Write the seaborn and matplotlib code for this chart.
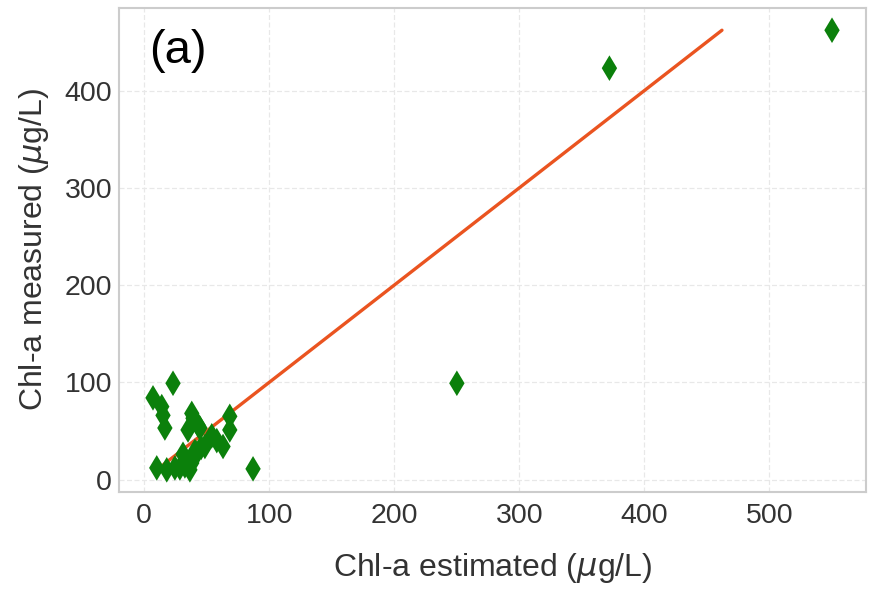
import numpy as np
import pandas as pd
import matplotlib
matplotlib.use("Agg")
import matplotlib.pyplot as plt
import seaborn as sns

# Chl-a estimated vs measured (µg/L)
chl_estimated = [7, 14, 15, 16.5, 23, 10, 18, 24.5, 28.5, 32.5, 31, 35, 38, 39, 38,
                 40.5, 42, 43, 44.5, 48.5, 54, 63, 68.4, 68.4, 87, 36.5, 45.5, 58,
                 250, 372, 550]
chl_measured = [84, 75, 66, 53, 99, 12, 10, 12, 12, 14, 26, 51, 68, 63, 17,
                29, 27, 56, 53, 34, 45, 34, 65, 51, 11, 10, 33, 40,
                99, 423, 462]

df = pd.DataFrame({"est": chl_estimated, "meas": chl_measured})

sns.set_style("whitegrid")
plt.rcParams['font.family'] = ['Liberation Sans', 'DejaVu Sans']
plt.rcParams['mathtext.fontset'] = 'dejavusans'

fig = plt.figure(figsize=(8.69, 5.89), dpi=100)
ax = fig.add_axes([0.137, 0.165, 0.8595, 0.821])

sns.scatterplot(data=df, x="est", y="meas", marker="d", color="#0b800b",
                s=170, edgecolor="none", ax=ax, zorder=3)

# 1:1 line from min to max measured
lo, hi = df["meas"].min(), df["meas"].max()
sns.lineplot(x=[lo, hi], y=[lo, hi], color="#ea5420", linewidth=2.4, ax=ax, zorder=2)

ax.set_xticks([0, 100, 200, 300, 400, 500])
ax.set_yticks([0, 100, 200, 300, 400])
ax.grid(True, color="#e8e8e8", linestyle=(0, (4, 2)), linewidth=0.9)
for sp in ax.spines.values():
    sp.set_color("#cccccc")
    sp.set_linewidth(1.5)

ax.tick_params(axis="x", labelsize=20.5, colors="#333333", length=0, pad=8)
ax.tick_params(axis="y", labelsize=20.5, colors="#333333", length=0, pad=5)
ax.set_xlabel(r"Chl-a estimated ($\mu$g/L)", fontsize=23, color="#333333", labelpad=16)
ax.set_ylabel(r"Chl-a measured ($\mu$g/L)", fontsize=23, color="#333333", labelpad=10)

ax.text(0.04, 0.957, "(a)", transform=ax.transAxes, fontsize=34, va="top", ha="left", color="black")

fig.savefig("out.png", dpi=100)
